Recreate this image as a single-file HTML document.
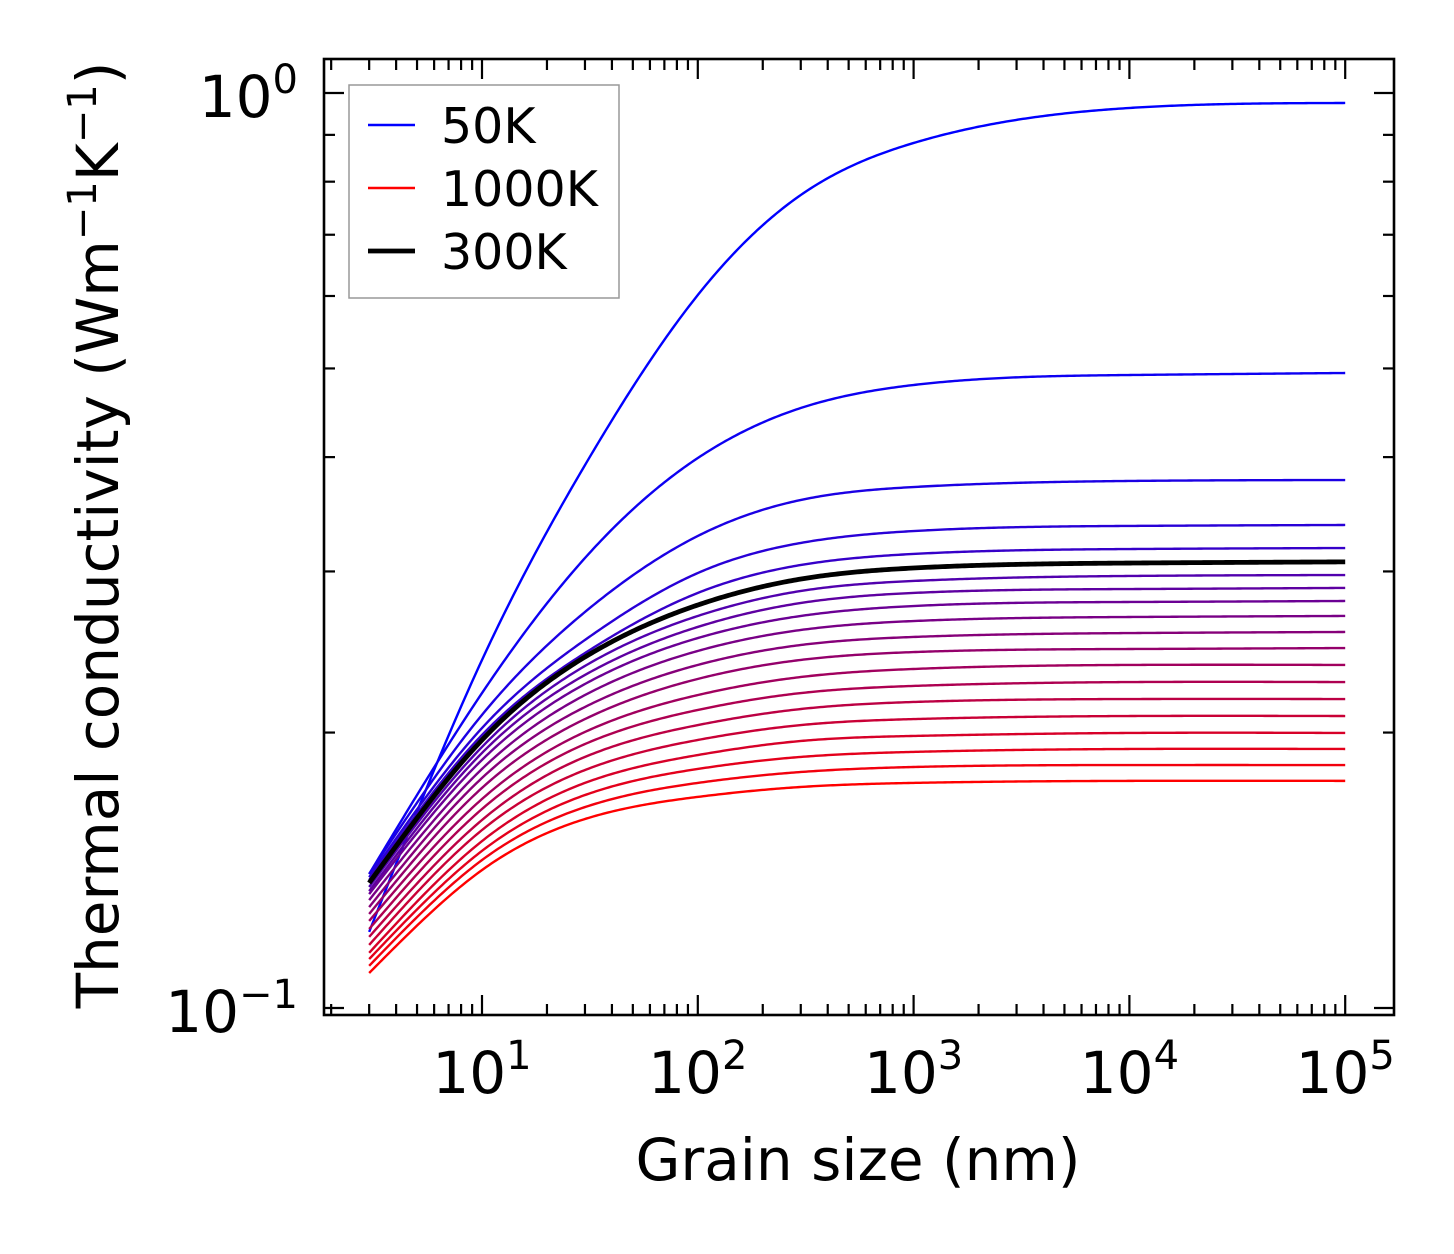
<!DOCTYPE html>
<html><head><meta charset="utf-8"><style>
html,body{margin:0;padding:0;background:#fff;}
svg{display:block;font-family:"DejaVu Sans","Liberation Sans",sans-serif;}
</style></head><body>
<svg id="chart" width="1454" height="1254" viewBox="0 0 1454 1254" xmlns="http://www.w3.org/2000/svg">
<rect x="0" y="0" width="1454" height="1254" fill="#fff"/>
<g id="curves"></g>
<g id="ticks"></g>
<rect x="324" y="59" width="1070" height="956" fill="none" stroke="#000" stroke-width="2.6"/>
<g id="labels"></g>
<text x="858" y="1180" font-size="58" text-anchor="middle">Grain size (nm)</text>
<text transform="translate(118,535) rotate(-90)" font-size="58" text-anchor="middle">Thermal conductivity (Wm<tspan font-size="40" dy="-22">−1</tspan><tspan dy="22">K</tspan><tspan font-size="40" dy="-22">−1</tspan><tspan dy="22">)</tspan></text>
<g>
<rect x="349" y="85" width="270" height="213" fill="#fff" stroke="#999" stroke-width="1.5"/>
<line x1="368" y1="125" x2="415" y2="125" stroke="#0000ff" stroke-width="2.4"/>
<text x="441" y="143" font-size="49">50K</text>
<line x1="368" y1="188" x2="415" y2="188" stroke="#ff0000" stroke-width="2.4"/>
<text x="441" y="206" font-size="49">1000K</text>
<line x1="368" y1="251" x2="415" y2="251" stroke="#000" stroke-width="4.8"/>
<text x="441" y="269" font-size="49">300K</text>
</g>
</svg>
<script>
const grainSizes = [3, 10, 30, 100, 300, 1000, 10000, 100000];
const temperatures = [50,100,150,200,250,300,350,400,450,500,550,600,650,700,750,800,850,900,950,1000];
const k50 = [0.1211,0.2401,0.392,0.6015,0.7736,0.8818,0.9630,0.9752];
const k100 = [0.1401,0.2209,0.3103,0.3991,0.4526,0.4796,0.4918,0.4943];
const k150 = [0.1401,0.2091,0.2709,0.3280,0.3591,0.3710,0.3767,0.3776];
const k200 = [0.1390,0.2023,0.2525,0.2988,0.3223,0.3321,0.3364,0.3372];
const k250 = [0.1380,0.1988,0.2443,0.2842,0.3049,0.3135,0.3174,0.3182];
const k300 = [0.1370,0.1963,0.2419,0.2757,0.2943,0.3026,0.3064,0.3073];
const k350 = [0.1356,0.1929,0.2365,0.2682,0.2856,0.2929,0.2966,0.2973];
const k400 = [0.1342,0.1900,0.2312,0.2609,0.2771,0.2842,0.2870,0.2878];
const k450 = [0.1332,0.1867,0.2260,0.2537,0.2682,0.2750,0.2778,0.2785];
const k500 = [0.1312,0.1825,0.2198,0.2456,0.2589,0.2648,0.2675,0.2682];
const k550 = [0.1289,0.1784,0.2133,0.2371,0.2493,0.2544,0.2569,0.2576];
const k600 = [0.1267,0.1740,0.2069,0.2289,0.2401,0.2449,0.2468,0.2474];
const k650 = [0.1245,0.1692,0.2003,0.2198,0.2300,0.2347,0.2371,0.2371];
const k700 = [0.1220,0.1650,0.1943,0.2117,0.2209,0.2249,0.2271,0.2271];
const k750 = [0.1196,0.1605,0.1881,0.2038,0.2122,0.2160,0.2176,0.2176];
const k800 = [0.1172,0.1565,0.1820,0.1963,0.2038,0.2069,0.2085,0.2085];
const k850 = [0.1149,0.1522,0.1762,0.1890,0.1958,0.1983,0.1998,0.1998];
const k900 = [0.1131,0.1485,0.1709,0.1825,0.1881,0.1905,0.1919,0.1919];
const k950 = [0.1112,0.1451,0.1658,0.1762,0.1811,0.1834,0.1843,0.1843];
const k1000 = [0.1092,0.1415,0.1609,0.1701,0.1744,0.1762,0.1771,0.1771];
const xTickExps = [1,2,3,4,5];
const yTickExps = [0,-1];

const series = [k50,k100,k150,k200,k250,k300,k350,k400,k450,k500,k550,k600,k650,k700,k750,k800,k850,k900,k950,k1000];
const NS = "http://www.w3.org/2000/svg";
const X0 = 482, XDEC = 215.8, Y0 = 93, YDEC = 915;
const L = 324, R = 1394, T = 59, B = 1015;
function px(v){ return X0 + XDEC*(Math.log10(v)-1); }
function py(v){ return Y0 - YDEC*Math.log10(v); }

function spline(xs, ys){
  const n = xs.length, h=[], al=[0], l=[1], mu=[0], z=[0], c=new Array(n).fill(0), b=[], d=[];
  for(let i=0;i<n-1;i++) h.push(xs[i+1]-xs[i]);
  for(let i=1;i<n-1;i++) al.push(3/h[i]*(ys[i+1]-ys[i])-3/h[i-1]*(ys[i]-ys[i-1]));
  for(let i=1;i<n-1;i++){
    l[i]=2*(xs[i+1]-xs[i-1])-h[i-1]*mu[i-1];
    mu[i]=h[i]/l[i];
    z[i]=(al[i]-h[i-1]*z[i-1])/l[i];
  }
  for(let j=n-2;j>=0;j--){
    c[j]=(j>0?z[j]:0)-mu[j]*c[j+1];
    if(j===0) c[0]=0;
    b[j]=(ys[j+1]-ys[j])/h[j]-h[j]*(c[j+1]+2*c[j])/3;
    d[j]=(c[j+1]-c[j])/(3*h[j]);
  }
  return function(x){
    let i=0; while(i<n-2 && x>xs[i+1]) i++;
    const t=x-xs[i];
    return ys[i]+b[i]*t+c[i]*t*t+d[i]*t*t*t;
  };
}

const cg = document.getElementById('curves');
function drawCurve(vals, color, w, name){
  const lx = grainSizes.map(v=>Math.log10(v)), ly = vals.map(v=>Math.log10(v));
  const f = spline(lx, ly);
  let d = "";
  const a = lx[0], b = lx[lx.length-1];
  for(let i=0;i<=400;i++){
    const x = a+(b-a)*i/400;
    const v = Math.pow(10, f(x));
    d += (i?"L":"M")+px(Math.pow(10,x)).toFixed(2)+","+py(v).toFixed(2);
  }
  const p = document.createElementNS(NS,'path');
  p.setAttribute('d', d);
  p.setAttribute('fill','none');
  p.setAttribute('stroke', color);
  p.setAttribute('stroke-width', w);
  p.setAttribute('stroke-linejoin','round');
  
  
  cg.appendChild(p);
}
let blackIdx = temperatures.indexOf(300);
series.forEach((s,i)=>{
  if(i===blackIdx) return;
  const f = (temperatures[i]-50)/950;
  const col = "rgb("+Math.round(255*f)+",0,"+Math.round(255*(1-f))+")";
  drawCurve(s, col, 2.4, 'curve-'+temperatures[i]+'k');
});
drawCurve(series[blackIdx], '#000', 4.8, 'curve-300k');

const tg = document.getElementById('ticks');
function tick(x1,y1,x2,y2,name){
  const l = document.createElementNS(NS,'line');
  l.setAttribute('x1',x1); l.setAttribute('y1',y1); l.setAttribute('x2',x2); l.setAttribute('y2',y2);
  l.setAttribute('stroke','#000'); l.setAttribute('stroke-width','2.2');
  
  
  tg.appendChild(l);
}
for(let e=0;e<=5;e++){
  for(let k=1;k<10;k++){
    const v = k*Math.pow(10,e), x = px(v);
    if(x<L+1 || x>R-1) continue;
    const len = k===1?20:11;
    tick(x,B,x,B-len,'x-tick');
    tick(x,T,x,T+len,'x-tick-top');
  }
}
for(let e=-2;e<=0;e++){
  for(let k=1;k<10;k++){
    const v = k*Math.pow(10,e), y = py(v);
    if(y<T+1 || y>B-1) continue;
    const len = k===1?20:11;
    tick(L,y,L+len,y,'y-tick');
    tick(R,y,R-len,y,'y-tick-right');
  }
}
const lg = document.getElementById('labels');
function label(x,y,anchor,exp,name){
  const t = document.createElementNS(NS,'text');
  t.setAttribute('x',x); t.setAttribute('y',y);
  t.setAttribute('font-size','58');
  t.setAttribute('text-anchor',anchor);
  
  
  const s1 = document.createElementNS(NS,'tspan'); s1.textContent='10';
  const s2 = document.createElementNS(NS,'tspan'); s2.setAttribute('font-size','40'); s2.setAttribute('dy','-24');
  s2.textContent = exp<0 ? '−'+(-exp) : String(exp);
  t.appendChild(s1); t.appendChild(s2);
  lg.appendChild(t);
}
xTickExps.forEach(e=>label(px(Math.pow(10,e)), 1093, 'middle', e, 'x-tick-label'));
yTickExps.forEach(e=>label(298, py(Math.pow(10,e))+24, 'end', e, 'y-tick-label'));
</script>
</body></html>
